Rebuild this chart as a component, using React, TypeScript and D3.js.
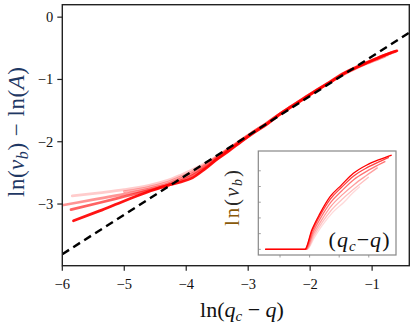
import React from "react";
import * as d3 from "d3";

// ---- main panel data ----
const xTicks = [-6, -5, -4, -3, -2, -1];
const yTicks = [0, -1, -2, -3];
const fitSlope = 0.635;
const fitIntercept = 0.005;
const fitX = [-6, -0.4];

const s1X = [-5.82, -5.4, -5.0, -4.6, -4.3, -4.1, -3.9, -3.7, -3.5, -3.3, -3.1, -2.9, -2.7, -2.5, -2.3, -2.1, -1.9, -1.7, -1.5, -1.3, -1.1, -0.9, -0.75, -0.6];
const s1Y = [-3.27, -3.11, -2.95, -2.8, -2.7, -2.65, -2.58, -2.44, -2.28, -2.14, -1.99, -1.85, -1.72, -1.57, -1.44, -1.31, -1.18, -1.06, -0.93, -0.83, -0.74, -0.65, -0.59, -0.54];
const s2X = [-5.86, -5.4, -5.0, -4.6, -4.3, -4.1, -3.9, -3.7, -3.5, -3.3, -3.1, -2.9, -2.7, -2.5, -2.3, -2.1, -1.9, -1.7, -1.5, -1.3, -1.1, -0.9, -0.75, -0.62];
const s2Y = [-3.09, -2.98, -2.88, -2.78, -2.7, -2.63, -2.54, -2.42, -2.27, -2.12, -1.98, -1.84, -1.71, -1.56, -1.43, -1.3, -1.17, -1.05, -0.92, -0.82, -0.73, -0.65, -0.59, -0.55];
const s3X = [-6.0, -5.5, -5.0, -4.6, -4.3, -4.1, -3.9, -3.7, -3.5, -3.3, -3.1, -2.9, -2.7, -2.5, -2.3, -2.1, -1.9, -1.7, -1.5, -1.3, -1.1, -0.9, -0.7];
const s3Y = [-3.02, -2.93, -2.84, -2.76, -2.68, -2.6, -2.51, -2.39, -2.25, -2.11, -1.97, -1.83, -1.7, -1.56, -1.43, -1.3, -1.17, -1.05, -0.93, -0.83, -0.74, -0.66, -0.58];
const s4X = [-5.84, -5.4, -5.0, -4.6, -4.3, -4.1, -3.9, -3.7, -3.5, -3.3, -3.1, -2.9, -2.7, -2.5, -2.3, -2.1, -1.9, -1.7, -1.5, -1.3, -1.1, -0.9, -0.75];
const s4Y = [-2.87, -2.82, -2.77, -2.7, -2.62, -2.54, -2.45, -2.35, -2.23, -2.1, -1.96, -1.83, -1.7, -1.56, -1.43, -1.31, -1.18, -1.06, -0.94, -0.84, -0.75, -0.67, -0.61];
const s5X = [-5.0, -4.6, -4.3, -4.1, -3.9, -3.7, -3.5, -3.3, -3.1, -2.9, -2.7, -2.5, -2.3, -2.1, -1.9, -1.7, -1.5, -1.3, -1.1, -0.9, -0.8];
const s5Y = [-2.8, -2.73, -2.65, -2.57, -2.48, -2.37, -2.24, -2.1, -1.96, -1.83, -1.7, -1.56, -1.43, -1.3, -1.18, -1.06, -0.94, -0.84, -0.75, -0.67, -0.63];

const mainSeries = [
  { x: s4X, y: s4Y, op: 0.2 },
  { x: s5X, y: s5Y, op: 0.3 },
  { x: s3X, y: s3Y, op: 0.42 },
  { x: s2X, y: s2Y, op: 0.62 },
  { x: s1X, y: s1Y, op: 0.92 },
];

// ---- inset data ----
const insetXTicks = [0.05, 0.1, 0.15, 0.2];
const insetYTicks = [0, 1, 2, 3, 4, 5];
const i1X = [0.025, 0.09, 0.0922, 0.1037, 0.1176, 0.1346, 0.1537, 0.174, 0.1967, 0.2189, 0.2387];
const i1Y = [0, 0, 0, 1.23, 2.29, 3.35, 4.09, 4.84, 5.37, 5.73, 6.0];
const i2X = [0.025, 0.092, 0.104, 0.118, 0.135, 0.154, 0.174, 0.197, 0.218, 0.234];
const i2Y = [0, 0, 1.15, 2.18, 3.2, 3.95, 4.66, 5.2, 5.58, 5.85];
const i3X = [0.025, 0.093, 0.105, 0.119, 0.136, 0.155, 0.175, 0.197, 0.215, 0.228];
const i3Y = [0, 0, 1.05, 2.02, 3.0, 3.75, 4.45, 4.98, 5.35, 5.6];
const i4X = [0.025, 0.094, 0.106, 0.12, 0.137, 0.156, 0.176, 0.196, 0.215];
const i4Y = [0, 0, 0.95, 1.85, 2.78, 3.5, 4.15, 4.7, 5.2];
const i5X = [0.025, 0.095, 0.107, 0.121, 0.138, 0.157, 0.177, 0.2];
const i5Y = [0, 0, 0.85, 1.7, 2.55, 3.25, 3.9, 4.6];
const i6X = [0.025, 0.096, 0.108, 0.122, 0.139, 0.158, 0.172, 0.185];
const i6Y = [0, 0, 0.75, 1.55, 2.35, 3.0, 3.55, 4.0];

const insetSeries = [
  { x: i6X, y: i6Y, op: 0.15 },
  { x: i5X, y: i5Y, op: 0.25 },
  { x: i4X, y: i4Y, op: 0.38 },
  { x: i3X, y: i3Y, op: 0.55 },
  { x: i2X, y: i2Y, op: 0.75 },
  { x: i1X, y: i1Y, op: 1 },
];

const W = 416;
const H = 323;
const FONT = "Liberation Serif, Times New Roman, DejaVu Serif, serif";
const tStyle = { fontFamily: FONT };

export default function App() {
  const x = d3.scaleLinear().domain([-6, -0.4]).range([62.3, 409.3]);
  const y = d3.scaleLinear().domain([-3.99, 0.2]).range([265.7, 4.7]);

  const ix = d3.scaleLinear().domain([0.0133, 0.246]).range([258.3, 396]);
  const iy = d3.scaleLinear().domain([-0.36, 6.26]).range([255, 151]);

  const line = d3
    .line<[number, number]>()
    .x((d) => x(d[0]))
    .y((d) => y(d[1]))
    .curve(d3.curveMonotoneX);
  const iline = d3
    .line<[number, number]>()
    .x((d) => ix(d[0]))
    .y((d) => iy(d[1]))
    .curve(d3.curveMonotoneX);

  const fitPts: [number, number][] = fitX.map((v) => [v, fitSlope * v + fitIntercept]);

  const [x0, x1] = x.range();
  const [yb, yt] = y.range();
  const [ix0, ix1] = ix.range();
  const [iyb, iyt] = iy.range();

  return (
    <svg
      width={W}
      height={H}
      style={{ position: "absolute", left: 0, top: 0, background: "#fff", fontFamily: FONT }}
    >
      <defs>
        <clipPath id="mainclip">
          <rect x={x0} y={yt} width={x1 - x0} height={yb - yt} />
        </clipPath>
        <clipPath id="insetclip">
          <rect x={ix0} y={iyt} width={ix1 - ix0} height={iyb - iyt} />
        </clipPath>
      </defs>

      {/* main curves */}
      <g clipPath="url(#mainclip)">
        {mainSeries.map((s, i) => (
          <path
            key={i}
            d={line(s.x.map((v, k) => [v, s.y[k]] as [number, number])) || ""}
            fill="none"
            stroke="#ff0000"
            strokeOpacity={s.op}
            strokeWidth={2.7}
            strokeLinecap="round"
          />
        ))}
        <path
          d={
            d3
              .line<[number, number]>()
              .x((d) => x(d[0]))
              .y((d) => y(d[1]))(fitPts) || ""
          }
          fill="none"
          stroke="#000"
          strokeWidth={2.4}
          strokeDasharray="8,5"
        />
      </g>

      {/* main frame */}
      <rect x={x0} y={yt} width={x1 - x0} height={yb - yt} fill="none" stroke="#222" strokeWidth={1.4} />

      {/* x ticks */}
      {xTicks.map((t) => (
        <g key={t}>
          <line x1={x(t)} x2={x(t)} y1={yb} y2={yb + 5} stroke="#222" strokeWidth={1.2} />
          <text x={x(t)} y={yb + 23} textAnchor="middle" fontSize={14.5} fill="#111" style={tStyle}>
            {"\u2212" + Math.abs(t)}
          </text>
        </g>
      ))}
      {/* y ticks */}
      {yTicks.map((t) => (
        <g key={t}>
          <line x1={x0 - 5} x2={x0} y1={y(t)} y2={y(t)} stroke="#222" strokeWidth={1.2} />
          <text x={x0 - 9} y={y(t) + 5} textAnchor="end" fontSize={14.5} fill="#111" style={tStyle}>
            {t === 0 ? "0" : "\u2212" + Math.abs(t)}
          </text>
        </g>
      ))}

      {/* x label */}
      <text x={242} y={317} textAnchor="middle" fontSize={22} fill="#111" style={tStyle}>
        ln(<tspan fontStyle="italic">q</tspan>
        <tspan fontStyle="italic" fontSize={15} dy={4}>c</tspan>
        <tspan dy={-4}> − </tspan>
        <tspan fontStyle="italic">q</tspan>)
      </text>

      {/* y label */}
      <text
        transform="translate(24,132) rotate(-90)"
        textAnchor="middle"
        fontSize={23}
        fill="#1f3864"
        style={tStyle}
        textLength={130}
        lengthAdjust="spacing"
      >
        ln(<tspan fontStyle="italic">v</tspan>
        <tspan fontStyle="italic" fontSize={16} dy={4}>b</tspan>
        <tspan dy={-4}>) − ln(</tspan>
        <tspan fontStyle="italic">A</tspan>)
      </text>

      {/* inset */}
      <rect x={ix0} y={iyt} width={ix1 - ix0} height={iyb - iyt} fill="#fff" />
      <g clipPath="url(#insetclip)">
        {insetSeries.map((s, i) => (
          <path
            key={i}
            d={iline(s.x.map((v, k) => [v, s.y[k]] as [number, number])) || ""}
            fill="none"
            stroke="#ff0000"
            strokeOpacity={s.op}
            strokeWidth={1.3}
          />
        ))}
      </g>
      <rect x={ix0} y={iyt} width={ix1 - ix0} height={iyb - iyt} fill="none" stroke="#888" strokeWidth={1.2} />
      {insetXTicks.map((t) => (
        <line key={t} x1={ix(t)} x2={ix(t)} y1={iyb} y2={iyb + 2.5} stroke="#888" strokeWidth={0.8} />
      ))}
      {insetYTicks.map((t) => (
        <line key={t} x1={ix0} x2={ix0 + 2.5} y1={iy(t)} y2={iy(t)} stroke="#888" strokeWidth={0.8} />
      ))}
      <text
        x={359}
        y={247}
        textAnchor="middle"
        fontSize={22}
        fill="#111"
        style={tStyle}
        textLength={61}
        lengthAdjust="spacing"
      >
        (<tspan fontStyle="italic">q</tspan>
        <tspan fontStyle="italic" fontSize={15} dy={4}>c</tspan>
        <tspan dy={-4}>−</tspan>
        <tspan fontStyle="italic">q</tspan>)
      </text>
      <text
        transform="translate(239,198) rotate(-90)"
        textAnchor="middle"
        fontSize={21}
        fill="#2a2a2a"
        style={tStyle}
        textLength={56}
        lengthAdjust="spacing"
      >
        <tspan fill="#8a5a0a">ln</tspan>(<tspan fontStyle="italic">v</tspan>
        <tspan fontStyle="italic" fontSize={14} dy={3}>b</tspan>
        <tspan dy={-3}>)</tspan>
      </text>
    </svg>
  );
}
